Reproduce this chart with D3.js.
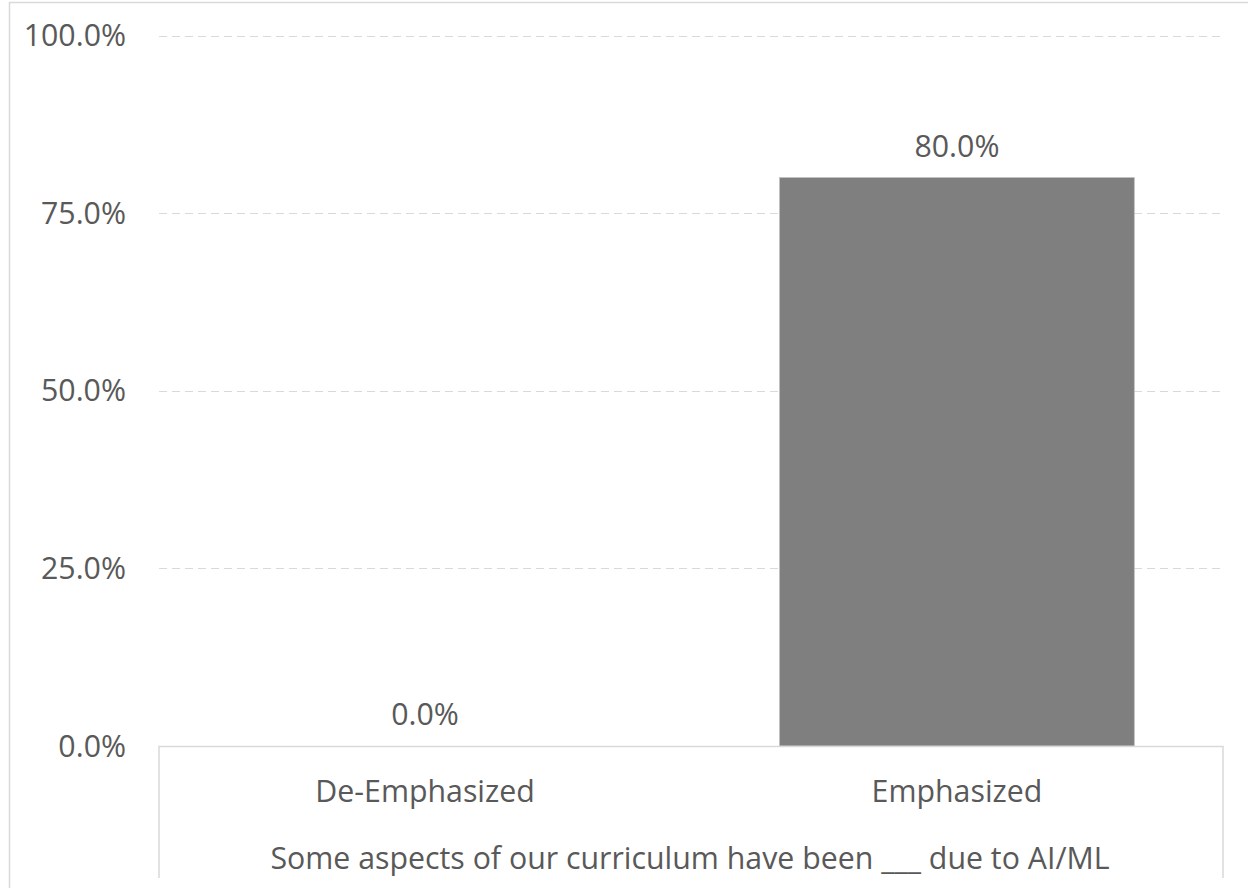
<!DOCTYPE html>
<html>
<head>
<meta charset="utf-8">
<script src="https://cdn.jsdelivr.net/npm/d3@7"></script>
<style>
  html, body { margin: 0; padding: 0; background: #fff; }
  svg { display: block; }
  text { font-family: "Open Sans", "Liberation Sans", sans-serif; fill: #595959; }
</style>
</head>
<body>
<svg id="chart" width="1248" height="888"></svg>
<script>
const categories = ["De-Emphasized", "Emphasized"];
const values = [0.0, 0.80];
const yTicks = [0, 0.25, 0.5, 0.75, 1.0];
const axisTitle = "Some aspects of our curriculum have been ___ due to AI/ML";

const svg = d3.select("#chart");
const plotLeft = 159, plotRight = 1223, plotTop = 35.5, plotBottom = 746;
const fs = 30.3;

// outer chart border
svg.append("rect")
  .attr("x", 9.5).attr("y", 2.5).attr("width", 1400).attr("height", 1000)
  .attr("fill", "none").attr("stroke", "#d9d9d9").attr("stroke-width", 1.5);

const x = d3.scaleBand().domain(categories).range([plotLeft, plotRight])
  .paddingInner(0.333).paddingOuter(0.1667);
const y = d3.scaleLinear().domain([0, 1]).range([plotBottom, plotTop]);

// gridlines
svg.append("g").selectAll("line").data(yTicks.filter(d => d > 0)).join("line")
  .attr("x1", plotLeft).attr("x2", plotRight)
  .attr("y1", d => Math.round(y(d)) + 0.5).attr("y2", d => Math.round(y(d)) + 0.5)
  .attr("stroke", "#d9d9d9").attr("stroke-width", 1.2)
  .attr("stroke-dasharray", "8,5");

// y tick labels
const fmt = d3.format(".1%");
svg.append("g").selectAll("text").data(yTicks).join("text")
  .attr("x", 126).attr("y", d => y(d))
  .attr("dy", "0.35em")
  .attr("text-anchor", "end")
  .attr("font-size", fs)
  .text(d => fmt(d));

// bars
svg.append("g").selectAll("rect").data(values).join("rect")
  .attr("x", (d, i) => x(categories[i]))
  .attr("y", d => y(d))
  .attr("width", x.bandwidth())
  .attr("height", d => plotBottom - y(d))
  .attr("fill", "#7f7f7f")
  .attr("stroke", "#bfbfbf").attr("stroke-width", 0.8);

// value labels
svg.append("g").selectAll("text").data(values).join("text")
  .attr("x", (d, i) => x(categories[i]) + x.bandwidth() / 2)
  .attr("y", d => y(d) - 21)
  .attr("text-anchor", "middle")
  .attr("font-size", fs)
  .attr("fill", "#404040")
  .text(d => fmt(d));

// x axis box
const box = svg.append("g").attr("fill", "none").attr("stroke", "#d9d9d9").attr("stroke-width", 1.5);
box.append("path")
  .attr("d", `M${plotLeft},878 V${plotBottom + 0.5} H${plotRight} V878`);

// category labels
svg.append("g").selectAll("text").data(categories).join("text")
  .attr("x", d => x(d) + x.bandwidth() / 2)
  .attr("y", 791)
  .attr("dy", "0.35em")
  .attr("text-anchor", "middle")
  .attr("font-size", fs)
  .text(d => d);

// axis title
svg.append("text")
  .attr("x", (plotLeft + plotRight) / 2 - 1)
  .attr("y", 858)
  .attr("dy", "0.35em")
  .attr("text-anchor", "middle")
  .attr("font-size", fs)
  .text(axisTitle);
</script>
</body>
</html>
